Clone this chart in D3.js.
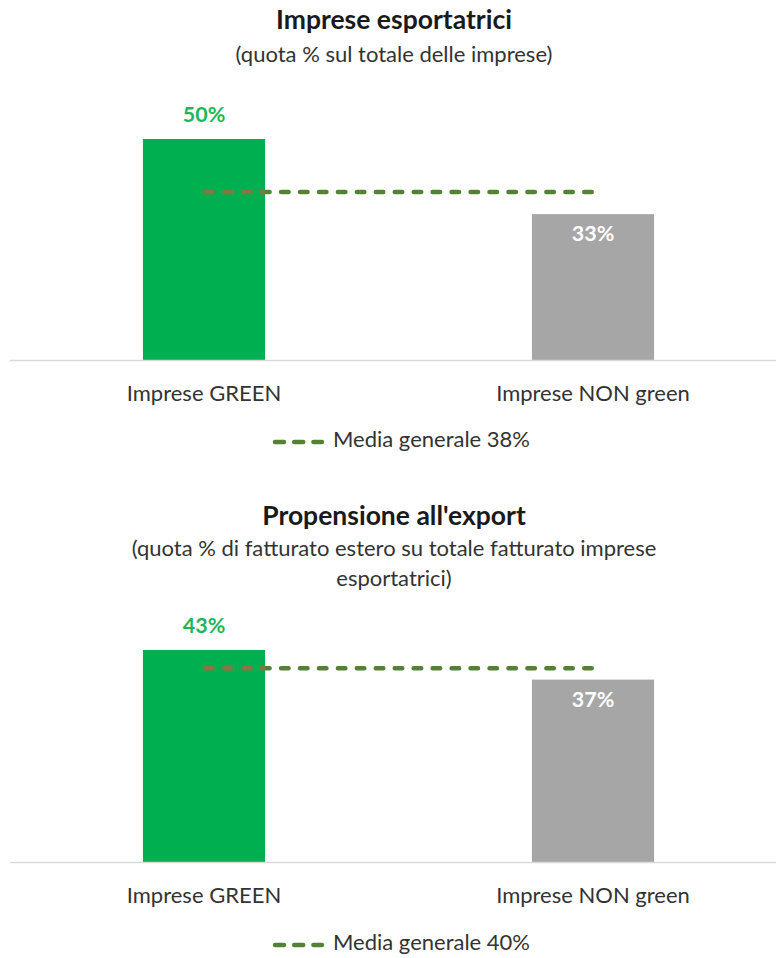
<!DOCTYPE html>
<html>
<head>
<meta charset="utf-8">
<script src="https://cdn.jsdelivr.net/npm/d3@7"></script>
<style>
  html, body { margin: 0; padding: 0; background: #fff; }
  svg { display: block; font-family: Lato, "Open Sans", sans-serif; }
</style>
</head>
<body>
<svg id="chart" width="776" height="958"></svg>
<script>
// ---- data ----
const categories = ["Imprese GREEN", "Imprese NON green"];

const panel1Title = "Imprese esportatrici";
const panel1Subtitle = ["(quota % sul totale delle imprese)"];
const panel1Values = [50, 33];
const panel1Average = 38;
const panel1Legend = "Media generale 38%";

const panel2Title = "Propensione all'export";
const panel2Subtitle = ["(quota % di fatturato estero su totale fatturato imprese", "esportatrici)"];
const panel2Values = [43, 37];
const panel2Average = 39.3;
const panel2Legend = "Media generale 40%";

const barColors = ["#00B050", "#A6A6A6"];
const labelColors = ["#1DB75A", "#FFFFFF"];
const avgColor = "#548235";
const avgOnGreenColor = "#7F7A44";

// ---- layout ----
const W = 776;
const titleCenter = 394;
const svg = d3.select("#chart");
const defs = svg.append("defs");

const x = d3.scaleBand()
  .domain(categories)
  .range([9.5, 787.5])
  .paddingInner(0.686)
  .paddingOuter(0.343);

function drawPanel(cfg, idx) {
  const g = svg.append("g");
  const y = d3.scaleLinear().domain([0, cfg.yMax]).range([cfg.baseline, cfg.plotTop]);

  // title
  g.append("text")
    .attr("x", titleCenter).attr("y", cfg.titleY)
    .attr("text-anchor", "middle")
    .attr("font-size", 26.5).attr("font-weight", 700).attr("fill", "#1a1a1a")
    .text(cfg.title);
  cfg.subtitle.forEach((s, i) => {
    g.append("text")
      .attr("x", titleCenter).attr("y", cfg.subY + i * 30)
      .attr("text-anchor", "middle")
      .attr("font-size", 22).attr("fill", "#333")
      .text(s);
  });

  // bars
  const data = categories.map((c, i) => ({ c, v: cfg.values[i], i }));
  g.selectAll("rect.bar").data(data).join("rect")
    .attr("class", "bar")
    .attr("x", d => x(d.c))
    .attr("width", x.bandwidth())
    .attr("y", d => y(d.v))
    .attr("height", d => y(0) - y(d.v))
    .attr("fill", d => barColors[d.i]);

  // clip for the part of the average line lying on the green bar
  defs.append("clipPath").attr("id", "clipGreen" + idx)
    .append("rect")
    .attr("x", x(categories[0]))
    .attr("width", x.bandwidth())
    .attr("y", y(cfg.values[0]))
    .attr("height", y(0) - y(cfg.values[0]));

  // axis
  const axis = g.append("g")
    .attr("transform", `translate(0,${cfg.baseline})`)
    .call(d3.axisBottom(x).tickSize(0).tickPadding(25));
  axis.select(".domain").attr("stroke", "#d9d9d9").attr("stroke-width", 1.5);
  axis.selectAll(".tick text")
    .attr("font-family", "Lato, 'Open Sans', sans-serif")
    .attr("font-size", 22).attr("fill", "#333");

  // average line
  const c0 = x(categories[0]) + x.bandwidth() / 2;
  const c1 = x(categories[1]) + x.bandwidth() / 2;
  [avgColor, avgOnGreenColor].forEach((col, k) => {
    const ln = g.append("line")
      .attr("x1", c0 + 1.25).attr("x2", c1 - 1.25)
      .attr("y1", y(cfg.avg)).attr("y2", y(cfg.avg))
      .attr("stroke", col).attr("stroke-width", 4.5)
      .attr("stroke-linecap", "round")
      .attr("stroke-dasharray", "7.5 11.45");
    if (k === 1) ln.attr("clip-path", `url(#clipGreen${idx})`);
  });

  // value labels
  g.selectAll("text.val").data(data).join("text")
    .attr("class", "val")
    .attr("x", d => x(d.c) + x.bandwidth() / 2)
    .attr("y", d => d.i === 0 ? y(d.v) - 17 : y(d.v) + 27)
    .attr("text-anchor", "middle")
    .attr("font-size", 21.5).attr("font-weight", 700)
    .attr("fill", d => labelColors[d.i])
    .text(d => d.v + "%");

  // legend
  const lg = g.append("g").attr("transform", `translate(0,${cfg.legendY})`);
  lg.append("line")
    .attr("x1", 275).attr("x2", 322)
    .attr("y1", -5).attr("y2", -5)
    .attr("stroke", avgColor).attr("stroke-width", 4.5)
    .attr("stroke-linecap", "round")
    .attr("stroke-dasharray", "9 10.2");
  lg.append("text")
    .attr("x", 333).attr("y", 0)
    .attr("font-size", 22).attr("fill", "#333")
    .text(cfg.legend);
}

drawPanel({
  title: panel1Title, subtitle: panel1Subtitle, values: panel1Values,
  avg: panel1Average, legend: panel1Legend,
  titleY: 29, subY: 62, yMax: 60, baseline: 360, plotTop: 94.8, legendY: 447
}, 1);

drawPanel({
  title: panel2Title, subtitle: panel2Subtitle, values: panel2Values,
  avg: panel2Average, legend: panel2Legend,
  titleY: 525, subY: 556, yMax: 50, baseline: 862, plotTop: 615.5, legendY: 950
}, 2);
</script>
</body>
</html>
